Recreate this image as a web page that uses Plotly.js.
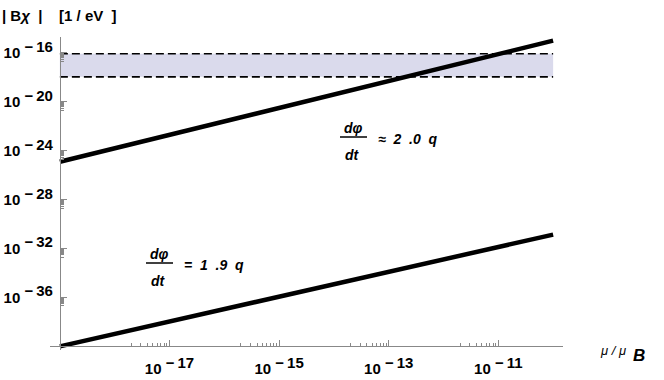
<!DOCTYPE html>
<html>
<head>
<meta charset="utf-8">
<script src="https://cdn.plot.ly/plotly-3.0.1.min.js"></script>
<style>
  html, body { margin: 0; padding: 0; background: #fff; }
  #plot { width: 664px; height: 380px; }
</style>
</head>
<body>
<div id="plot"></div>
<script>
// mu / mu_B values (one per decade)
var muVals = [1e-19, 1e-18, 1e-17, 1e-16, 1e-15, 1e-14, 1e-13, 1e-12, 1e-11, 1e-10];

// |B chi| for d(phi)/dt ~ 2.0 q
var upperLine = [1.26e-25, 1.58e-24, 2.0e-23, 2.51e-22, 3.16e-21, 3.98e-20, 5.01e-19, 6.31e-18, 7.94e-17, 1.0e-15];
// |B chi| for d(phi)/dt = 1.9 q
var lowerLine = [1.0e-40, 1.04e-39, 1.07e-38, 1.1e-37, 1.15e-36, 1.19e-35, 1.23e-34, 1.26e-33, 1.32e-32, 1.38e-31];

// shaded band
var bandX = [1e-19, 1e-10];
var bandLow = [1.1e-18, 1.1e-18];
var bandHigh = [8.5e-17, 8.5e-17];

// tick labels (exponents)
var xTickExp = [-17, -15, -13, -11];
var yTickExp = [-36, -32, -28, -24, -20, -16];

// layout geometry
var L = 50, R = 101, T = 37, B = 30;
var W = 664 - L - R, H = 380 - T - B;
function px(x) { return (x - L) / W; }
function py(y) { return (380 - B - y) / H; }

function majorVals(exps) { return exps.map(function(e) { return Math.pow(10, e); }); }
function majorText(exps) {
    return exps.map(function(e) {
        return '10<sup><span style="font-size:15px"> \u2212\u2009' + Math.abs(e) + '</span></sup>';
    });
}
function minorVals(exps) {
    var out = [];
    exps.forEach(function(e) {
        for (var k = 2; k <= 9; k++) out.push(k * Math.pow(10, e - 1));
    });
    return out;
}

var bandLine = { color: '#000', width: 1.6, dash: '8px,4px' };

var data = [
    { x: bandX, y: bandLow, mode: 'lines', line: bandLine, hoverinfo: 'skip' },
    { x: bandX, y: bandHigh, mode: 'lines', line: bandLine, fill: 'tonexty',
      fillcolor: 'rgb(218,218,236)', hoverinfo: 'skip' },
    { x: muVals, y: upperLine, mode: 'lines', line: { color: '#000', width: 4.5 } },
    { x: muVals, y: lowerLine, mode: 'lines', line: { color: '#000', width: 4.5 } }
];

var fam = 'Liberation Sans, Arial, sans-serif';
var tickFont = { family: fam, size: 15, color: '#000', weight: 'bold' };
var annFont = { family: fam, size: 14, color: '#000', weight: 'bold', style: 'italic' };

var layout = {
    width: 664,
    height: 380,
    margin: { l: L, r: R, t: T, b: B },
    paper_bgcolor: '#fff',
    plot_bgcolor: '#fff',
    showlegend: false,
    xaxis: {
        type: 'log',
        range: [-19.18, -9.82],
        anchor: 'free',
        position: 0.3 / 25.6,
        showgrid: false,
        zeroline: false,
        showline: true,
        linecolor: '#888',
        linewidth: 1,
        ticks: 'inside',
        ticklen: 6,
        tickcolor: '#888',
        tickmode: 'array',
        tickvals: majorVals(xTickExp),
        ticktext: majorText(xTickExp),
        tickfont: tickFont,
        ticklabelstandoff: 9,
        minor: { tickmode: 'array', tickvals: minorVals(xTickExp), ticks: 'inside', ticklen: 3, tickcolor: '#888', showgrid: false }
    },
    yaxis: {
        type: 'log',
        range: [-40.3, -14.7],
        anchor: 'free',
        position: 0.18 / 9.36,
        showgrid: false,
        zeroline: false,
        showline: true,
        linecolor: '#888',
        linewidth: 1,
        ticks: 'inside',
        ticklen: 6,
        tickcolor: '#888',
        tickmode: 'array',
        tickvals: majorVals(yTickExp),
        ticktext: majorText(yTickExp),
        tickfont: tickFont,
        ticklabelstandoff: 4,
        minor: { tickmode: 'array', tickvals: minorVals(yTickExp), ticks: 'inside', ticklen: 3, tickcolor: '#888', showgrid: false }
    },
    shapes: [
        { type: 'line', xref: 'paper', yref: 'paper', x0: px(340), x1: px(367), y0: py(137), y1: py(137), line: { color: '#000', width: 1.5 } },
        { type: 'line', xref: 'paper', yref: 'paper', x0: px(146), x1: px(173), y0: py(263), y1: py(263), line: { color: '#000', width: 1.5 } }
    ],
    annotations: [
        { xref: 'paper', yref: 'paper', x: px(0), y: py(16), xanchor: 'left', yanchor: 'middle', showarrow: false,
          text: '|&nbsp;B<i>\u03c7</i>&nbsp;&nbsp;|&nbsp;&nbsp;&nbsp;&nbsp;[1 / eV&nbsp;&nbsp;]', font: { family: fam, size: 15, color: '#000', weight: 'bold' } },
        { xref: 'paper', yref: 'paper', x: px(598), y: py(350), xanchor: 'left', yanchor: 'middle', showarrow: false,
          text: '\u03bc / \u03bc', font: { family: fam, size: 13, color: '#000', style: 'italic' } },
        { xref: 'paper', yref: 'paper', x: px(631), y: py(355), xanchor: 'left', yanchor: 'middle', showarrow: false,
          text: 'B', font: { family: fam, size: 17, color: '#000', weight: 'bold', style: 'italic' } },

        { xref: 'paper', yref: 'paper', x: px(353), y: py(128), xanchor: 'center', yanchor: 'middle', showarrow: false, text: 'd\u03c6', font: annFont },
        { xref: 'paper', yref: 'paper', x: px(352), y: py(155), xanchor: 'center', yanchor: 'middle', showarrow: false, text: 'dt', font: annFont },
        { xref: 'paper', yref: 'paper', x: px(376), y: py(139), xanchor: 'left', yanchor: 'middle', showarrow: false, text: '\u2248&nbsp;&nbsp;2&nbsp;&nbsp;.0&nbsp;&nbsp;q', font: annFont },

        { xref: 'paper', yref: 'paper', x: px(159), y: py(254), xanchor: 'center', yanchor: 'middle', showarrow: false, text: 'd\u03c6', font: annFont },
        { xref: 'paper', yref: 'paper', x: px(158), y: py(281), xanchor: 'center', yanchor: 'middle', showarrow: false, text: 'dt', font: annFont },
        { xref: 'paper', yref: 'paper', x: px(182), y: py(265), xanchor: 'left', yanchor: 'middle', showarrow: false, text: '=&nbsp;&nbsp;1&nbsp;&nbsp;.9&nbsp;&nbsp;q', font: annFont }
    ]
};

Plotly.newPlot('plot', data, layout, { staticPlot: true, displayModeBar: false });
</script>
</body>
</html>
